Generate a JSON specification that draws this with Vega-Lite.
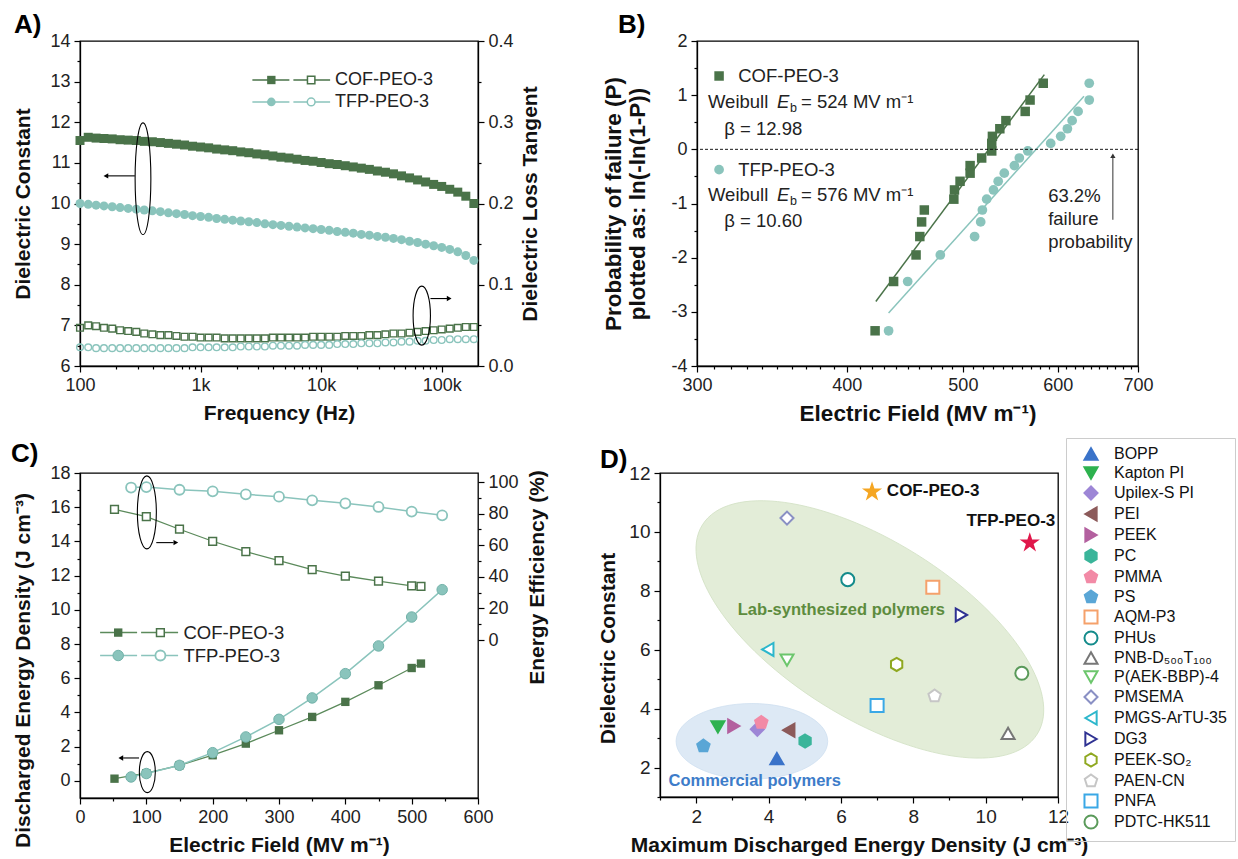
{
"$schema":"https://vega.github.io/schema/vega-lite/v6.json",
"background":"white",
"padding":{"left":10,"top":11,"right":2,"bottom":2},
"config":{
 "font":"Liberation Sans",
 "view":{"stroke":"#000","strokeWidth":1.3},
 "point":{"opacity":1},
 "locale":{"number":{"decimal":".","thousands":",","grouping":[3],"currency":["$",""],"minus":"-"}},
 "axis":{"grid":false,"labelFont":"Liberation Sans","labelFontSize":18,"labelColor":"#222","titleFont":"Liberation Sans","titleFontSize":21,"titleFontWeight":"bold","titleColor":"#111","domainColor":"#000","domainWidth":1.3,"tickColor":"#000","tickWidth":1.2,"tickSize":6,"labelPadding":4,"labelFlush":false,"labelOverlap":false},
 "title":{"font":"Liberation Sans","fontSize":26,"fontWeight":"bold","color":"#000","anchor":"start","frame":"group"},
 "text":{"font":"Liberation Sans","color":"#222"}
},
"datasets":{
"A":[
{"s":"COF-PEO-3","f":100,"eps":11.55,"tan":0.047},{"s":"COF-PEO-3","f":117,"eps":11.63,"tan":0.050},{"s":"COF-PEO-3","f":136,"eps":11.61,"tan":0.049},{"s":"COF-PEO-3","f":158,"eps":11.60,"tan":0.047},{"s":"COF-PEO-3","f":185,"eps":11.59,"tan":0.046},{"s":"COF-PEO-3","f":215,"eps":11.57,"tan":0.044},{"s":"COF-PEO-3","f":251,"eps":11.56,"tan":0.043},{"s":"COF-PEO-3","f":293,"eps":11.55,"tan":0.042},{"s":"COF-PEO-3","f":341,"eps":11.53,"tan":0.040},{"s":"COF-PEO-3","f":398,"eps":11.52,"tan":0.039},
{"s":"COF-PEO-3","f":464,"eps":11.50,"tan":0.038},{"s":"COF-PEO-3","f":541,"eps":11.48,"tan":0.038},{"s":"COF-PEO-3","f":631,"eps":11.46,"tan":0.037},{"s":"COF-PEO-3","f":736,"eps":11.44,"tan":0.036},{"s":"COF-PEO-3","f":858,"eps":11.41,"tan":0.036},{"s":"COF-PEO-3","f":1000,"eps":11.39,"tan":0.035},{"s":"COF-PEO-3","f":1166,"eps":11.37,"tan":0.035},{"s":"COF-PEO-3","f":1359,"eps":11.34,"tan":0.035},{"s":"COF-PEO-3","f":1585,"eps":11.32,"tan":0.034},{"s":"COF-PEO-3","f":1848,"eps":11.30,"tan":0.034},
{"s":"COF-PEO-3","f":2154,"eps":11.27,"tan":0.034},{"s":"COF-PEO-3","f":2512,"eps":11.25,"tan":0.034},{"s":"COF-PEO-3","f":2929,"eps":11.22,"tan":0.034},{"s":"COF-PEO-3","f":3415,"eps":11.20,"tan":0.034},{"s":"COF-PEO-3","f":3981,"eps":11.17,"tan":0.035},{"s":"COF-PEO-3","f":4642,"eps":11.14,"tan":0.035},{"s":"COF-PEO-3","f":5412,"eps":11.12,"tan":0.035},{"s":"COF-PEO-3","f":6310,"eps":11.09,"tan":0.035},{"s":"COF-PEO-3","f":7356,"eps":11.06,"tan":0.035},{"s":"COF-PEO-3","f":8577,"eps":11.04,"tan":0.036},
{"s":"COF-PEO-3","f":10000,"eps":11.01,"tan":0.036},{"s":"COF-PEO-3","f":11659,"eps":10.98,"tan":0.036},{"s":"COF-PEO-3","f":13594,"eps":10.96,"tan":0.036},{"s":"COF-PEO-3","f":15849,"eps":10.93,"tan":0.037},{"s":"COF-PEO-3","f":18478,"eps":10.90,"tan":0.037},{"s":"COF-PEO-3","f":21544,"eps":10.87,"tan":0.037},{"s":"COF-PEO-3","f":25119,"eps":10.84,"tan":0.038},{"s":"COF-PEO-3","f":29286,"eps":10.80,"tan":0.038},{"s":"COF-PEO-3","f":34146,"eps":10.77,"tan":0.039},{"s":"COF-PEO-3","f":39811,"eps":10.73,"tan":0.040},
{"s":"COF-PEO-3","f":46416,"eps":10.68,"tan":0.040},{"s":"COF-PEO-3","f":54117,"eps":10.63,"tan":0.041},{"s":"COF-PEO-3","f":63096,"eps":10.58,"tan":0.042},{"s":"COF-PEO-3","f":73564,"eps":10.53,"tan":0.043},{"s":"COF-PEO-3","f":85770,"eps":10.47,"tan":0.044},{"s":"COF-PEO-3","f":100000,"eps":10.42,"tan":0.045},{"s":"COF-PEO-3","f":116591,"eps":10.35,"tan":0.046},{"s":"COF-PEO-3","f":135936,"eps":10.28,"tan":0.047},{"s":"COF-PEO-3","f":158489,"eps":10.18,"tan":0.048},{"s":"COF-PEO-3","f":184785,"eps":10.00,"tan":0.048},
{"s":"TFP-PEO-3","f":100,"eps":10.00,"tan":0.023},{"s":"TFP-PEO-3","f":117,"eps":9.98,"tan":0.023},{"s":"TFP-PEO-3","f":136,"eps":9.96,"tan":0.022},{"s":"TFP-PEO-3","f":158,"eps":9.94,"tan":0.022},{"s":"TFP-PEO-3","f":185,"eps":9.92,"tan":0.022},{"s":"TFP-PEO-3","f":215,"eps":9.90,"tan":0.022},{"s":"TFP-PEO-3","f":251,"eps":9.88,"tan":0.022},{"s":"TFP-PEO-3","f":293,"eps":9.86,"tan":0.022},{"s":"TFP-PEO-3","f":341,"eps":9.84,"tan":0.022},{"s":"TFP-PEO-3","f":398,"eps":9.82,"tan":0.022},
{"s":"TFP-PEO-3","f":464,"eps":9.80,"tan":0.022},{"s":"TFP-PEO-3","f":541,"eps":9.77,"tan":0.022},{"s":"TFP-PEO-3","f":631,"eps":9.75,"tan":0.022},{"s":"TFP-PEO-3","f":736,"eps":9.73,"tan":0.022},{"s":"TFP-PEO-3","f":858,"eps":9.70,"tan":0.023},{"s":"TFP-PEO-3","f":1000,"eps":9.68,"tan":0.023},{"s":"TFP-PEO-3","f":1166,"eps":9.66,"tan":0.023},{"s":"TFP-PEO-3","f":1359,"eps":9.63,"tan":0.023},{"s":"TFP-PEO-3","f":1585,"eps":9.61,"tan":0.023},{"s":"TFP-PEO-3","f":1848,"eps":9.59,"tan":0.023},
{"s":"TFP-PEO-3","f":2154,"eps":9.57,"tan":0.024},{"s":"TFP-PEO-3","f":2512,"eps":9.55,"tan":0.024},{"s":"TFP-PEO-3","f":2929,"eps":9.53,"tan":0.024},{"s":"TFP-PEO-3","f":3415,"eps":9.50,"tan":0.024},{"s":"TFP-PEO-3","f":3981,"eps":9.48,"tan":0.025},{"s":"TFP-PEO-3","f":4642,"eps":9.46,"tan":0.025},{"s":"TFP-PEO-3","f":5412,"eps":9.44,"tan":0.025},{"s":"TFP-PEO-3","f":6310,"eps":9.42,"tan":0.025},{"s":"TFP-PEO-3","f":7356,"eps":9.40,"tan":0.026},{"s":"TFP-PEO-3","f":8577,"eps":9.38,"tan":0.026},
{"s":"TFP-PEO-3","f":10000,"eps":9.36,"tan":0.026},{"s":"TFP-PEO-3","f":11659,"eps":9.34,"tan":0.026},{"s":"TFP-PEO-3","f":13594,"eps":9.31,"tan":0.027},{"s":"TFP-PEO-3","f":15849,"eps":9.29,"tan":0.027},{"s":"TFP-PEO-3","f":18478,"eps":9.27,"tan":0.027},{"s":"TFP-PEO-3","f":21544,"eps":9.24,"tan":0.028},{"s":"TFP-PEO-3","f":25119,"eps":9.22,"tan":0.028},{"s":"TFP-PEO-3","f":29286,"eps":9.19,"tan":0.028},{"s":"TFP-PEO-3","f":34146,"eps":9.17,"tan":0.029},{"s":"TFP-PEO-3","f":39811,"eps":9.14,"tan":0.029},
{"s":"TFP-PEO-3","f":46416,"eps":9.11,"tan":0.030},{"s":"TFP-PEO-3","f":54117,"eps":9.07,"tan":0.030},{"s":"TFP-PEO-3","f":63096,"eps":9.04,"tan":0.031},{"s":"TFP-PEO-3","f":73564,"eps":9.00,"tan":0.031},{"s":"TFP-PEO-3","f":85770,"eps":8.96,"tan":0.032},{"s":"TFP-PEO-3","f":100000,"eps":8.92,"tan":0.032},{"s":"TFP-PEO-3","f":116591,"eps":8.87,"tan":0.033},{"s":"TFP-PEO-3","f":135936,"eps":8.81,"tan":0.033},{"s":"TFP-PEO-3","f":158489,"eps":8.72,"tan":0.033},{"s":"TFP-PEO-3","f":184785,"eps":8.60,"tan":0.033}
],
"B":[
{"s":"COF-PEO-3","E":422.4,"v":-3.35},{"s":"COF-PEO-3","E":437.7,"v":-2.44},{"s":"COF-PEO-3","E":457.0,"v":-1.95},{"s":"COF-PEO-3","E":460.3,"v":-1.61},{"s":"COF-PEO-3","E":461.9,"v":-1.34},{"s":"COF-PEO-3","E":464.3,"v":-1.12},{"s":"COF-PEO-3","E":491.4,"v":-0.92},{"s":"COF-PEO-3","E":492.0,"v":-0.75},{"s":"COF-PEO-3","E":497.3,"v":-0.59},{"s":"COF-PEO-3","E":507.0,"v":-0.44},
{"s":"COF-PEO-3","E":507.0,"v":-0.30},{"s":"COF-PEO-3","E":518.4,"v":-0.16},{"s":"COF-PEO-3","E":528.5,"v":-0.03},{"s":"COF-PEO-3","E":528.5,"v":0.11},{"s":"COF-PEO-3","E":529.2,"v":0.24},{"s":"COF-PEO-3","E":536.8,"v":0.38},{"s":"COF-PEO-3","E":543.1,"v":0.53},{"s":"COF-PEO-3","E":563.6,"v":0.70},{"s":"COF-PEO-3","E":568.9,"v":0.91},{"s":"COF-PEO-3","E":583.5,"v":1.22},
{"s":"TFP-PEO-3","E":433.5,"v":-3.35},{"s":"TFP-PEO-3","E":449.7,"v":-2.44},{"s":"TFP-PEO-3","E":478.8,"v":-1.95},{"s":"TFP-PEO-3","E":511.4,"v":-1.61},{"s":"TFP-PEO-3","E":517.4,"v":-1.34},{"s":"TFP-PEO-3","E":519.1,"v":-1.12},{"s":"TFP-PEO-3","E":523.4,"v":-0.92},{"s":"TFP-PEO-3","E":530.3,"v":-0.75},{"s":"TFP-PEO-3","E":535.1,"v":-0.59},{"s":"TFP-PEO-3","E":541.4,"v":-0.44},
{"s":"TFP-PEO-3","E":552.0,"v":-0.30},{"s":"TFP-PEO-3","E":557.3,"v":-0.16},{"s":"TFP-PEO-3","E":566.4,"v":-0.03},{"s":"TFP-PEO-3","E":591.9,"v":0.11},{"s":"TFP-PEO-3","E":603.4,"v":0.24},{"s":"TFP-PEO-3","E":611.2,"v":0.38},{"s":"TFP-PEO-3","E":616.8,"v":0.53},{"s":"TFP-PEO-3","E":623.9,"v":0.70},{"s":"TFP-PEO-3","E":637.4,"v":0.91},{"s":"TFP-PEO-3","E":637.4,"v":1.22}
],
"Bfit":[
{"s":"COF-PEO-3","E":423,"v":-2.81},{"s":"COF-PEO-3","E":584.7,"v":1.38},
{"s":"TFP-PEO-3","E":433.5,"v":-3.02},{"s":"TFP-PEO-3","E":631,"v":0.98}
],
"C":[
{"s":"COF-PEO-3","E":52,"W":0.13,"eff":82.7},{"s":"COF-PEO-3","E":100,"W":0.45,"eff":78.1},{"s":"COF-PEO-3","E":150,"W":0.91,"eff":70.1},{"s":"COF-PEO-3","E":200,"W":1.50,"eff":62.5},{"s":"COF-PEO-3","E":250,"W":2.18,"eff":55.9},{"s":"COF-PEO-3","E":300,"W":2.96,"eff":50.2},{"s":"COF-PEO-3","E":350,"W":3.74,"eff":44.5},{"s":"COF-PEO-3","E":400,"W":4.62,"eff":40.5},{"s":"COF-PEO-3","E":450,"W":5.59,"eff":37.2},{"s":"COF-PEO-3","E":500,"W":6.60,"eff":34.2},{"s":"COF-PEO-3","E":514,"W":6.86,"eff":33.9},
{"s":"TFP-PEO-3","E":77,"W":0.23,"eff":96.5},{"s":"TFP-PEO-3","E":100,"W":0.43,"eff":96.8},{"s":"TFP-PEO-3","E":150,"W":0.91,"eff":95.1},{"s":"TFP-PEO-3","E":200,"W":1.65,"eff":94.1},{"s":"TFP-PEO-3","E":250,"W":2.57,"eff":92.2},{"s":"TFP-PEO-3","E":300,"W":3.60,"eff":90.7},{"s":"TFP-PEO-3","E":350,"W":4.85,"eff":88.4},{"s":"TFP-PEO-3","E":400,"W":6.27,"eff":86.5},{"s":"TFP-PEO-3","E":450,"W":7.89,"eff":84.2},{"s":"TFP-PEO-3","E":500,"W":9.58,"eff":81.3},{"s":"TFP-PEO-3","E":546,"W":11.18,"eff":78.9}
],
"D":[
{"name":"BOPP","x":4.23,"y":2.30},{"name":"Kapton PI","x":2.60,"y":3.38},{"name":"Upilex-S PI","x":3.69,"y":3.30},{"name":"PEI","x":4.56,"y":3.27},{"name":"PEEK","x":3.04,"y":3.41},{"name":"PC","x":5.01,"y":2.90},{"name":"PMMA","x":3.80,"y":3.53},{"name":"PS","x":2.20,"y":2.73},{"name":"AQM-P3","x":8.54,"y":8.12},{"name":"PHUs","x":6.19,"y":8.38},
{"name":"PNB-D₅₀₀T₁₀₀","x":10.62,"y":3.16},{"name":"P(AEK-BBP)-4","x":4.51,"y":5.65},{"name":"PMSEMA","x":4.51,"y":10.47},{"name":"PMGS-ArTU-35","x":3.98,"y":6.01},{"name":"DG3","x":9.33,"y":7.18},{"name":"PEEK-SO₂","x":7.54,"y":5.50},{"name":"PAEN-CN","x":8.59,"y":4.43},{"name":"PNFA","x":7.00,"y":4.11},{"name":"PDTC-HK511","x":11.00,"y":5.20}
],
"Dstar":[
{"name":"COF-PEO-3","x":6.86,"y":11.36},{"name":"TFP-PEO-3","x":11.22,"y":9.63}
]
},
"vconcat":[
{"hconcat":[
{
"width":398,"height":325,
"title":{"text":"A)","dx":-66,"offset":-6},
"resolve":{"scale":{"y":"independent"},"axis":{"x":"independent","y":"independent"}},
"layer":[
{"data":{"name":"A"},"transform":[{"filter":"datum.s == 'COF-PEO-3'"}],
 "mark":{"type":"point","shape":"square","filled":true,"color":"#4a7349","size":81},
 "encoding":{
  "x":{"field":"f","type":"quantitative","scale":{"type":"log","domain":[100,200000],"nice":false},"axis":{"orient":"bottom","values":[100,1000,10000,100000],"labelExpr":"datum.value >= 1000 ? format(datum.value / 1000, 'd') + 'k' : format(datum.value, 'd')","title":"Frequency (Hz)","titlePadding":8}},
  "y":{"field":"eps","type":"quantitative","scale":{"domain":[6,14],"nice":false,"zero":false},"axis":{"orient":"left","values":[6,7,8,9,10,11,12,13,14],"title":"Dielectric Constant","titlePadding":16}}}},
{"data":{"name":"A"},"transform":[{"filter":"datum.s == 'TFP-PEO-3'"}],
 "mark":{"type":"point","shape":"circle","filled":true,"color":"#8ac4bc","size":81},
 "encoding":{
  "x":{"field":"f","type":"quantitative","axis":{"orient":"bottom","values":[200,300,400,500,600,700,800,900,2000,3000,4000,5000,6000,7000,8000,9000,20000,30000,40000,50000,60000,70000,80000,90000],"labels":false,"tickSize":3,"domain":false,"title":null}},
  "y":{"field":"eps","type":"quantitative","scale":{"domain":[6,14],"nice":false,"zero":false},"axis":{"orient":"left","values":[6.5,7.5,8.5,9.5,10.5,11.5,12.5,13.5],"labels":false,"tickSize":3,"domain":false,"title":null}}}},
{"data":{"name":"A"},"transform":[{"filter":"datum.s == 'COF-PEO-3'"}],
 "mark":{"type":"point","shape":"square","filled":false,"color":"#4a7349","strokeWidth":1.4,"size":45},
 "encoding":{
  "x":{"field":"f","type":"quantitative","axis":null},
  "y":{"field":"tan","type":"quantitative","scale":{"domain":[0,0.4],"nice":false,"zero":false},"axis":{"orient":"right","values":[0,0.1,0.2,0.3,0.4],"format":".1f","title":"Dielectric Loss Tangent","titleAngle":270,"titleBaseline":"top","titlePadding":6}}}},
{"data":{"name":"A"},"transform":[{"filter":"datum.s == 'TFP-PEO-3'"}],
 "mark":{"type":"point","shape":"circle","filled":false,"color":"#8ac4bc","strokeWidth":1.4,"size":45},
 "encoding":{
  "x":{"field":"f","type":"quantitative","axis":null},
  "y":{"field":"tan","type":"quantitative","scale":{"domain":[0,0.4],"nice":false,"zero":false},"axis":{"orient":"right","values":[0.05,0.15,0.25,0.35],"labels":false,"tickSize":3,"domain":false,"title":null}}}},
{"data":{"values":[{}]},"mark":{"type":"rule","color":"#4a7349","strokeWidth":1.5,"strokeDash":[37,4]},
 "encoding":{"x":{"datum":2690,"type":"quantitative","axis":null},"x2":{"datum":11870},"y":{"datum":13.04,"type":"quantitative","scale":{"domain":[6,14],"nice":false,"zero":false},"axis":null}}},
{"data":{"values":[{}]},"mark":{"type":"point","shape":"square","filled":true,"color":"#4a7349","size":70},
 "encoding":{"x":{"datum":3863,"type":"quantitative","axis":null},"y":{"datum":13.04,"type":"quantitative","scale":{"domain":[6,14],"nice":false,"zero":false},"axis":null}}},
{"data":{"values":[{}]},"mark":{"type":"point","shape":"square","filled":true,"fill":"white","stroke":"#4a7349","strokeWidth":1.5,"size":55},
 "encoding":{"x":{"datum":8266,"type":"quantitative","axis":null},"y":{"datum":13.04,"type":"quantitative","scale":{"domain":[6,14],"nice":false,"zero":false},"axis":null}}},
{"data":{"values":[{}]},"mark":{"type":"text","text":"COF-PEO-3","align":"left","baseline":"middle","fontSize":18},
 "encoding":{"x":{"datum":13050,"type":"quantitative","axis":null},"y":{"datum":13.04,"type":"quantitative","scale":{"domain":[6,14],"nice":false,"zero":false},"axis":null}}},
{"data":{"values":[{}]},"mark":{"type":"rule","color":"#8ac4bc","strokeWidth":1.5,"strokeDash":[37,4]},
 "encoding":{"x":{"datum":2690,"type":"quantitative","axis":null},"x2":{"datum":11870},"y":{"datum":12.5,"type":"quantitative","scale":{"domain":[6,14],"nice":false,"zero":false},"axis":null}}},
{"data":{"values":[{}]},"mark":{"type":"point","shape":"circle","filled":true,"color":"#8ac4bc","size":75},
 "encoding":{"x":{"datum":3863,"type":"quantitative","axis":null},"y":{"datum":12.5,"type":"quantitative","scale":{"domain":[6,14],"nice":false,"zero":false},"axis":null}}},
{"data":{"values":[{}]},"mark":{"type":"point","shape":"circle","filled":true,"fill":"white","stroke":"#8ac4bc","strokeWidth":1.5,"size":60},
 "encoding":{"x":{"datum":8266,"type":"quantitative","axis":null},"y":{"datum":12.5,"type":"quantitative","scale":{"domain":[6,14],"nice":false,"zero":false},"axis":null}}},
{"data":{"values":[{}]},"mark":{"type":"text","text":"TFP-PEO-3","align":"left","baseline":"middle","fontSize":18},
 "encoding":{"x":{"datum":13050,"type":"quantitative","axis":null},"y":{"datum":12.5,"type":"quantitative","scale":{"domain":[6,14],"nice":false,"zero":false},"axis":null}}},
{"data":{"values":[{}]},"mark":{"type":"point","shape":"M0.141,0C0.141,0.5523,0.078,1,0,1C-0.078,1,-0.141,0.5523,-0.141,0C-0.141,-0.5523,-0.078,-1,0,-1C0.078,-1,0.141,-0.5523,0.141,0Z","filled":false,"color":"#000","strokeWidth":1.1,"size":12477},
 "encoding":{"x":{"datum":333,"type":"quantitative","axis":null},"y":{"datum":10.61,"type":"quantitative","scale":{"domain":[6,14],"nice":false,"zero":false},"axis":null}}},
{"data":{"values":[{}]},"mark":{"type":"rule","color":"#000","strokeWidth":1.1},
 "encoding":{"x":{"datum":285,"type":"quantitative","axis":null},"x2":{"datum":169},"y":{"datum":10.68,"type":"quantitative","scale":{"domain":[6,14],"nice":false,"zero":false},"axis":null}}},
{"data":{"values":[{}]},"mark":{"type":"point","shape":"triangle-left","filled":true,"color":"#000","size":30},
 "encoding":{"x":{"datum":164,"type":"quantitative","axis":null},"y":{"datum":10.68,"type":"quantitative","scale":{"domain":[6,14],"nice":false,"zero":false},"axis":null}}},
{"data":{"values":[{}]},"mark":{"type":"point","shape":"M0.294,0C0.294,0.5523,0.1624,1,0,1C-0.1624,1,-0.294,0.5523,-0.294,0C-0.294,-0.5523,-0.1624,-1,0,-1C0.1624,-1,0.294,-0.5523,0.294,0Z","filled":false,"color":"#000","strokeWidth":1.1,"size":3481},
 "encoding":{"x":{"datum":68340,"type":"quantitative","axis":null},"y":{"datum":7.24,"type":"quantitative","scale":{"domain":[6,14],"nice":false,"zero":false},"axis":null}}},
{"data":{"values":[{}]},"mark":{"type":"rule","color":"#000","strokeWidth":1.1},
 "encoding":{"x":{"datum":80650,"type":"quantitative","axis":null},"x2":{"datum":112100},"y":{"datum":7.66,"type":"quantitative","scale":{"domain":[6,14],"nice":false,"zero":false},"axis":null}}},
{"data":{"values":[{}]},"mark":{"type":"point","shape":"triangle-right","filled":true,"color":"#000","size":30},
 "encoding":{"x":{"datum":115300,"type":"quantitative","axis":null},"y":{"datum":7.66,"type":"quantitative","scale":{"domain":[6,14],"nice":false,"zero":false},"axis":null}}}
]
},
{
"width":441,"height":325,
"title":{"text":"B)","dx":-79,"offset":-6},
"resolve":{"axis":{"x":"independent","y":"independent"}},
"layer":[
{"data":{"name":"Bfit"},"mark":{"type":"line","strokeWidth":1.5},
 "encoding":{
  "x":{"field":"E","type":"quantitative","scale":{"type":"log","domain":[300,700],"nice":false},"axis":{"orient":"bottom","values":[300,400,500,600,700],"format":"d","title":"Electric Field (MV m⁻¹)","titleFontSize":22.5,"titlePadding":8}},
  "y":{"field":"v","type":"quantitative","scale":{"domain":[-4,2],"nice":false,"zero":false},"axis":{"orient":"left","values":[-4,-3,-2,-1,0,1,2],"format":"d","title":["Probability of failure (P)","plotted as: ln(-ln(1-P))"],"titleFontSize":22.5,"titleLineHeight":24,"titlePadding":21}},
  "color":{"field":"s","type":"nominal","scale":{"domain":["COF-PEO-3","TFP-PEO-3"],"range":["#4a7349","#8ac4bc"]},"legend":null}}},
{"data":{"name":"B"},"transform":[{"filter":"datum.s == 'COF-PEO-3'"}],
 "mark":{"type":"point","shape":"square","filled":true,"color":"#4a7349","size":90},
 "encoding":{
  "x":{"field":"E","type":"quantitative","axis":{"orient":"bottom","values":[310,320,330,340,350,360,370,380,390,410,420,430,440,450,460,470,480,490,510,520,530,540,550,560,570,580,590,610,620,630,640,650,660,670,680,690],"labels":false,"tickSize":3,"domain":false,"title":null}},
  "y":{"field":"v","type":"quantitative","axis":{"orient":"left","values":[-3.5,-2.5,-1.5,-0.5,0.5,1.5],"labels":false,"tickSize":3,"domain":false,"title":null}}}},
{"data":{"name":"B"},"transform":[{"filter":"datum.s == 'TFP-PEO-3'"}],
 "mark":{"type":"point","shape":"circle","filled":true,"color":"#8ac4bc","size":95},
 "encoding":{"x":{"field":"E","type":"quantitative","axis":null},"y":{"field":"v","type":"quantitative","axis":null}}},
{"data":{"values":[{}]},"mark":{"type":"rule","color":"#000","strokeWidth":0.9,"strokeDash":[3,2]},
 "encoding":{"y":{"datum":0,"type":"quantitative","axis":null}}},
{"data":{"values":[{}]},"mark":{"type":"rule","color":"#333","strokeWidth":1},
 "encoding":{"x":{"datum":667,"type":"quantitative","axis":null},"y":{"datum":-1.30,"type":"quantitative","axis":null},"y2":{"datum":-0.16}}},
{"data":{"values":[{}]},"mark":{"type":"point","shape":"triangle-up","filled":true,"color":"#333","size":28},
 "encoding":{"x":{"datum":667,"type":"quantitative","axis":null},"y":{"datum":-0.12,"type":"quantitative","axis":null}}},
{"data":{"values":[{}]},"mark":{"type":"text","text":["63.2%","failure","probability"],"align":"left","baseline":"alphabetic","lineHeight":23,"fontSize":18.5},
 "encoding":{"x":{"datum":589,"type":"quantitative","axis":null},"y":{"datum":-0.97,"type":"quantitative","axis":null}}},
{"data":{"values":[{}]},"mark":{"type":"point","shape":"square","filled":true,"color":"#4a7349","size":90},
 "encoding":{"x":{"datum":313,"type":"quantitative","axis":null},"y":{"datum":1.354,"type":"quantitative","axis":null}}},
{"data":{"values":[{}]},"mark":{"type":"text","text":"COF-PEO-3","align":"left","baseline":"middle","fontSize":18.5},
 "encoding":{"x":{"datum":324.7,"type":"quantitative","axis":null},"y":{"datum":1.354,"type":"quantitative","axis":null}}},
{"data":{"values":[{}]},"mark":{"type":"text","text":"Weibull","align":"left","baseline":"middle","fontSize":18.5},
 "encoding":{"x":{"datum":306.4,"type":"quantitative","axis":null},"y":{"datum":0.874,"type":"quantitative","axis":null}}},
{"data":{"values":[{}]},"mark":{"type":"text","text":"E","align":"left","baseline":"middle","fontSize":18.5,"fontStyle":"italic","dx":69},
 "encoding":{"x":{"datum":306.4,"type":"quantitative","axis":null},"y":{"datum":0.874,"type":"quantitative","axis":null}}},
{"data":{"values":[{}]},"mark":{"type":"text","text":"b","align":"left","baseline":"middle","fontSize":12.5,"dx":82,"dy":6},
 "encoding":{"x":{"datum":306.4,"type":"quantitative","axis":null},"y":{"datum":0.874,"type":"quantitative","axis":null}}},
{"data":{"values":[{}]},"mark":{"type":"text","text":"= 524 MV m⁻¹","align":"left","baseline":"middle","fontSize":18.5,"dx":93},
 "encoding":{"x":{"datum":306.4,"type":"quantitative","axis":null},"y":{"datum":0.874,"type":"quantitative","axis":null}}},
{"data":{"values":[{}]},"mark":{"type":"text","text":"β = 12.98","align":"left","baseline":"middle","fontSize":18.5},
 "encoding":{"x":{"datum":316.1,"type":"quantitative","axis":null},"y":{"datum":0.381,"type":"quantitative","axis":null}}},
{"data":{"values":[{}]},"mark":{"type":"point","shape":"circle","filled":true,"color":"#8ac4bc","size":95},
 "encoding":{"x":{"datum":313,"type":"quantitative","axis":null},"y":{"datum":-0.375,"type":"quantitative","axis":null}}},
{"data":{"values":[{}]},"mark":{"type":"text","text":"TFP-PEO-3","align":"left","baseline":"middle","fontSize":18.5},
 "encoding":{"x":{"datum":324.7,"type":"quantitative","axis":null},"y":{"datum":-0.375,"type":"quantitative","axis":null}}},
{"data":{"values":[{}]},"mark":{"type":"text","text":"Weibull","align":"left","baseline":"middle","fontSize":18.5},
 "encoding":{"x":{"datum":306.4,"type":"quantitative","axis":null},"y":{"datum":-0.837,"type":"quantitative","axis":null}}},
{"data":{"values":[{}]},"mark":{"type":"text","text":"E","align":"left","baseline":"middle","fontSize":18.5,"fontStyle":"italic","dx":69},
 "encoding":{"x":{"datum":306.4,"type":"quantitative","axis":null},"y":{"datum":-0.837,"type":"quantitative","axis":null}}},
{"data":{"values":[{}]},"mark":{"type":"text","text":"b","align":"left","baseline":"middle","fontSize":12.5,"dx":82,"dy":6},
 "encoding":{"x":{"datum":306.4,"type":"quantitative","axis":null},"y":{"datum":-0.837,"type":"quantitative","axis":null}}},
{"data":{"values":[{}]},"mark":{"type":"text","text":"= 576 MV m⁻¹","align":"left","baseline":"middle","fontSize":18.5,"dx":93},
 "encoding":{"x":{"datum":306.4,"type":"quantitative","axis":null},"y":{"datum":-0.837,"type":"quantitative","axis":null}}},
{"data":{"values":[{}]},"mark":{"type":"text","text":"β = 10.60","align":"left","baseline":"middle","fontSize":18.5},
 "encoding":{"x":{"datum":316.1,"type":"quantitative","axis":null},"y":{"datum":-1.317,"type":"quantitative","axis":null}}}
]
}
],"spacing":219,"bounds":"flush"},
{"hconcat":[
{
"width":398,"height":325,
"title":{"text":"C)","dx":-69,"offset":-3},
"resolve":{"scale":{"y":"independent"},"axis":{"x":"independent","y":"independent"}},
"layer":[
{"data":{"name":"C"},"transform":[{"filter":"datum.s == 'COF-PEO-3'"}],
 "mark":{"type":"line","color":"#5b8a5b","strokeWidth":1.3,"point":{"shape":"square","filled":true,"color":"#4a7349","size":70,"opacity":1}},
 "encoding":{
  "x":{"field":"E","type":"quantitative","scale":{"domain":[0,600],"nice":false,"zero":false},"axis":{"orient":"bottom","values":[0,100,200,300,400,500,600],"title":"Electric Field (MV m⁻¹)","titlePadding":8}},
  "y":{"field":"W","type":"quantitative","scale":{"domain":[-1,18],"nice":false,"zero":false},"axis":{"orient":"left","values":[0,2,4,6,8,10,12,14,16,18],"title":"Discharged Energy Density (J cm⁻³)","titlePadding":16,"titleY":197}}}},
{"data":{"name":"C"},"transform":[{"filter":"datum.s == 'TFP-PEO-3'"}],
 "mark":{"type":"line","color":"#8ac4bc","strokeWidth":1.5,"point":{"shape":"circle","filled":true,"fill":"#8ac4bc","stroke":"#72b2a9","strokeWidth":1,"size":110,"opacity":1}},
 "encoding":{
  "x":{"field":"E","type":"quantitative","axis":{"orient":"bottom","values":[50,150,250,350,450,550],"labels":false,"tickSize":3,"domain":false,"title":null}},
  "y":{"field":"W","type":"quantitative","scale":{"domain":[-1,18],"nice":false,"zero":false},"axis":{"orient":"left","values":[1,3,5,7,9,11,13,15,17],"labels":false,"tickSize":3,"domain":false,"title":null}}}},
{"data":{"name":"C"},"transform":[{"filter":"datum.s == 'COF-PEO-3'"}],
 "mark":{"type":"line","color":"#5b8a5b","strokeWidth":1.3,"point":{"shape":"square","filled":true,"fill":"white","stroke":"#4a7349","strokeWidth":1.5,"size":60,"opacity":1}},
 "encoding":{
  "x":{"field":"E","type":"quantitative","axis":null},
  "y":{"field":"eff","type":"quantitative","scale":{"domain":[-100,105.7],"nice":false,"zero":false},"axis":{"orient":"right","values":[0,20,40,60,80,100],"domain":false,"title":"Energy Efficiency (%)","titleAngle":270,"titleBaseline":"top","titleY":104,"titlePadding":8}}}},
{"data":{"name":"C"},"transform":[{"filter":"datum.s == 'TFP-PEO-3'"}],
 "mark":{"type":"line","color":"#8ac4bc","strokeWidth":1.5,"point":{"shape":"circle","filled":true,"fill":"white","stroke":"#8ac4bc","strokeWidth":1.8,"size":100,"opacity":1}},
 "encoding":{
  "x":{"field":"E","type":"quantitative","axis":null},
  "y":{"field":"eff","type":"quantitative","scale":{"domain":[-100,105.7],"nice":false,"zero":false},"axis":{"orient":"right","values":[10,30,50,70,90],"labels":false,"tickSize":3,"domain":false,"title":null}}}},
{"data":{"values":[{}]},"mark":{"type":"rule","color":"#5b8a5b","strokeWidth":1.5,"strokeDash":[37,4]},
 "encoding":{"x":{"datum":30.3,"type":"quantitative","axis":null},"x2":{"datum":148.5},"y":{"datum":8.67,"type":"quantitative","scale":{"domain":[-1,18],"nice":false,"zero":false},"axis":null}}},
{"data":{"values":[{}]},"mark":{"type":"point","shape":"square","filled":true,"color":"#4a7349","size":70},
 "encoding":{"x":{"datum":57.6,"type":"quantitative","axis":null},"y":{"datum":8.67,"type":"quantitative","scale":{"domain":[-1,18],"nice":false,"zero":false},"axis":null}}},
{"data":{"values":[{}]},"mark":{"type":"point","shape":"square","filled":true,"fill":"white","stroke":"#4a7349","strokeWidth":1.5,"size":60},
 "encoding":{"x":{"datum":121.2,"type":"quantitative","axis":null},"y":{"datum":8.67,"type":"quantitative","scale":{"domain":[-1,18],"nice":false,"zero":false},"axis":null}}},
{"data":{"values":[{}]},"mark":{"type":"text","text":"COF-PEO-3","align":"left","baseline":"middle","fontSize":18.5},
 "encoding":{"x":{"datum":156,"type":"quantitative","axis":null},"y":{"datum":8.67,"type":"quantitative","scale":{"domain":[-1,18],"nice":false,"zero":false},"axis":null}}},
{"data":{"values":[{}]},"mark":{"type":"rule","color":"#8ac4bc","strokeWidth":1.5,"strokeDash":[37,4]},
 "encoding":{"x":{"datum":30.3,"type":"quantitative","axis":null},"x2":{"datum":148.5},"y":{"datum":7.33,"type":"quantitative","scale":{"domain":[-1,18],"nice":false,"zero":false},"axis":null}}},
{"data":{"values":[{}]},"mark":{"type":"point","shape":"circle","filled":true,"fill":"#8ac4bc","stroke":"#72b2a9","strokeWidth":1,"size":110},
 "encoding":{"x":{"datum":57.6,"type":"quantitative","axis":null},"y":{"datum":7.33,"type":"quantitative","scale":{"domain":[-1,18],"nice":false,"zero":false},"axis":null}}},
{"data":{"values":[{}]},"mark":{"type":"point","shape":"circle","filled":true,"fill":"white","stroke":"#8ac4bc","strokeWidth":1.8,"size":100},
 "encoding":{"x":{"datum":121.2,"type":"quantitative","axis":null},"y":{"datum":7.33,"type":"quantitative","scale":{"domain":[-1,18],"nice":false,"zero":false},"axis":null}}},
{"data":{"values":[{}]},"mark":{"type":"text","text":"TFP-PEO-3","align":"left","baseline":"middle","fontSize":18.5},
 "encoding":{"x":{"datum":156,"type":"quantitative","axis":null},"y":{"datum":7.33,"type":"quantitative","scale":{"domain":[-1,18],"nice":false,"zero":false},"axis":null}}},
{"data":{"values":[{}]},"mark":{"type":"point","shape":"M0.26,0C0.26,0.5523,0.1436,1,0,1C-0.1436,1,-0.26,0.5523,-0.26,0C-0.26,-0.5523,-0.1436,-1,0,-1C0.1436,-1,0.26,-0.5523,0.26,0Z","filled":false,"color":"#000","strokeWidth":1.1,"size":5329},
 "encoding":{"x":{"datum":100.8,"type":"quantitative","axis":null},"y":{"datum":15.7,"type":"quantitative","scale":{"domain":[-1,18],"nice":false,"zero":false},"axis":null}}},
{"data":{"values":[{}]},"mark":{"type":"rule","color":"#000","strokeWidth":1.1},
 "encoding":{"x":{"datum":115,"type":"quantitative","axis":null},"x2":{"datum":141},"y":{"datum":13.93,"type":"quantitative","scale":{"domain":[-1,18],"nice":false,"zero":false},"axis":null}}},
{"data":{"values":[{}]},"mark":{"type":"point","shape":"triangle-right","filled":true,"color":"#000","size":30},
 "encoding":{"x":{"datum":144.5,"type":"quantitative","axis":null},"y":{"datum":13.93,"type":"quantitative","scale":{"domain":[-1,18],"nice":false,"zero":false},"axis":null}}},
{"data":{"values":[{}]},"mark":{"type":"point","shape":"M0.39,0C0.39,0.5523,0.2154,1,0,1C-0.2154,1,-0.39,0.5523,-0.39,0C-0.39,-0.5523,-0.2154,-1,0,-1C0.2154,-1,0.39,-0.5523,0.39,0Z","filled":false,"color":"#000","strokeWidth":1.1,"size":1681},
 "encoding":{"x":{"datum":101.5,"type":"quantitative","axis":null},"y":{"datum":0.51,"type":"quantitative","scale":{"domain":[-1,18],"nice":false,"zero":false},"axis":null}}},
{"data":{"values":[{}]},"mark":{"type":"rule","color":"#000","strokeWidth":1.1},
 "encoding":{"x":{"datum":89,"type":"quantitative","axis":null},"x2":{"datum":65},"y":{"datum":1.34,"type":"quantitative","scale":{"domain":[-1,18],"nice":false,"zero":false},"axis":null}}},
{"data":{"values":[{}]},"mark":{"type":"point","shape":"triangle-left","filled":true,"color":"#000","size":30},
 "encoding":{"x":{"datum":61.5,"type":"quantitative","axis":null},"y":{"datum":1.34,"type":"quantitative","scale":{"domain":[-1,18],"nice":false,"zero":false},"axis":null}}}
]
},
{
"width":398,"height":324,
"title":{"text":"D)","dx":-60,"offset":-9},
"resolve":{"axis":{"x":"independent","y":"independent"}},
"layer":[
{"data":{"values":[{}]},"mark":{"type":"point","shape":"M1.974,0C1.974,0.488,1.09,0.884,0,0.884C-1.09,0.884,-1.974,0.488,-1.974,0C-1.974,-0.488,-1.09,-0.884,0,-0.884C1.09,-0.884,1.974,-0.488,1.974,0Z","size":40000,"angle":32,"filled":true,"fill":"#e3edd8","stroke":"#d3e2c6","strokeWidth":0.8},
 "encoding":{
  "x":{"datum":6.80,"type":"quantitative","scale":{"domain":[1,12],"nice":false,"zero":false},"axis":{"orient":"bottom","values":[2,4,6,8,10,12],"labelFontSize":19,"title":"Maximum Discharged Energy Density (J cm⁻³)","titlePadding":8}},
  "y":{"datum":6.69,"type":"quantitative","scale":{"domain":[1,12],"nice":false,"zero":false},"axis":{"orient":"left","values":[2,4,6,8,10,12],"labelFontSize":19,"title":"Dielectric Constant","titlePadding":10,"titleY":175}}}},
{"data":{"values":[{}]},"mark":{"type":"point","shape":"M0.758,0C0.758,0.2088,0.4187,0.378,0,0.378C-0.4187,0.378,-0.758,0.2088,-0.758,0C-0.758,-0.2088,-0.4187,-0.378,0,-0.378C0.4187,-0.378,0.758,-0.2088,0.758,0Z","size":40000,"filled":true,"fill":"#dde9f5","stroke":"#cfdff0","strokeWidth":0.8},
 "encoding":{
  "x":{"datum":3.54,"type":"quantitative","axis":{"orient":"bottom","values":[1,3,5,7,9,11],"labels":false,"tickSize":3,"domain":false,"title":null}},
  "y":{"datum":2.89,"type":"quantitative","axis":{"orient":"left","values":[1,3,5,7,9,11],"labels":false,"tickSize":3,"domain":false,"title":null}}}},
{"data":{"name":"D"},"mark":{"type":"point","size":170,"strokeWidth":2,"opacity":1},
 "encoding":{
  "x":{"field":"x","type":"quantitative","axis":null},
  "y":{"field":"y","type":"quantitative","axis":null},
  "shape":{"field":"name","type":"nominal","scale":{"domain":["BOPP","Kapton PI","Upilex-S PI","PEI","PEEK","PC","PMMA","PS","AQM-P3","PHUs","PNB-D₅₀₀T₁₀₀","P(AEK-BBP)-4","PMSEMA","PMGS-ArTU-35","DG3","PEEK-SO₂","PAEN-CN","PNFA","PDTC-HK511"],"range":["triangle-up","triangle-down","diamond","triangle-left","triangle-right","M0,-1L0.866,-0.5L0.866,0.5L0,1L-0.866,0.5L-0.866,-0.5Z","M0,-1L0.951,-0.309L0.588,0.809L-0.588,0.809L-0.951,-0.309Z","M0,-1L0.951,-0.309L0.588,0.809L-0.588,0.809L-0.951,-0.309Z","square","circle","triangle-up","triangle-down","diamond","triangle-left","triangle-right","M0,-1L0.866,-0.5L0.866,0.5L0,1L-0.866,0.5L-0.866,-0.5Z","M0,-1L0.951,-0.309L0.588,0.809L-0.588,0.809L-0.951,-0.309Z","square","circle"]},
   "legend":{"orient":"none","legendX":986,"legendY":397,"title":null,"strokeColor":"#cccccc","padding":8,"symbolOffset":9,"labelFontSize":16,"labelFont":"Liberation Sans","labelColor":"#111","symbolSize":170,"symbolStrokeWidth":2,"rowPadding":-1,"labelOffset":15}},
  "stroke":{"field":"name","type":"nominal","scale":{"domain":["BOPP","Kapton PI","Upilex-S PI","PEI","PEEK","PC","PMMA","PS","AQM-P3","PHUs","PNB-D₅₀₀T₁₀₀","P(AEK-BBP)-4","PMSEMA","PMGS-ArTU-35","DG3","PEEK-SO₂","PAEN-CN","PNFA","PDTC-HK511"],"range":["#3a73c9","#2eb24f","#9d86d6","#8c5a5a","#b3609f","#3ab59a","#f28aa6","#5aa6d6","#f5a16b","#148b8b","#777777","#6cc66c","#8a90c4","#2cb7cc","#2e3192","#8fa820","#c6c6c6","#3aa8e6","#5a9a5a"]},
   "legend":{"orient":"none","legendX":986,"legendY":397,"title":null,"strokeColor":"#cccccc","padding":8,"symbolOffset":9,"labelFontSize":16,"labelFont":"Liberation Sans","labelColor":"#111","symbolSize":170,"symbolStrokeWidth":2,"rowPadding":-1,"labelOffset":15}},
  "fill":{"field":"name","type":"nominal","scale":{"domain":["BOPP","Kapton PI","Upilex-S PI","PEI","PEEK","PC","PMMA","PS","AQM-P3","PHUs","PNB-D₅₀₀T₁₀₀","P(AEK-BBP)-4","PMSEMA","PMGS-ArTU-35","DG3","PEEK-SO₂","PAEN-CN","PNFA","PDTC-HK511"],"range":["#3a73c9","#2eb24f","#9d86d6","#8c5a5a","#b3609f","#3ab59a","#f28aa6","#5aa6d6","#ffffff","#ffffff","#ffffff","#ffffff","#ffffff","#ffffff","#ffffff","#ffffff","#ffffff","#ffffff","#ffffff"]},
   "legend":{"orient":"none","legendX":986,"legendY":397,"title":null,"strokeColor":"#cccccc","padding":8,"symbolOffset":9,"labelFontSize":16,"labelFont":"Liberation Sans","labelColor":"#111","symbolSize":170,"symbolStrokeWidth":2,"rowPadding":-1,"labelOffset":15}}}},
{"data":{"name":"Dstar"},"transform":[{"filter":"datum.name == 'COF-PEO-3'"}],"mark":{"type":"point","shape":"M0,-1L0.2245,-0.309L0.951,-0.309L0.363,0.118L0.588,0.809L0,0.382L-0.588,0.809L-0.363,0.118L-0.951,-0.309L-0.2245,-0.309Z","filled":true,"color":"#f5a623","size":450,"opacity":1},
 "encoding":{"x":{"field":"x","type":"quantitative","axis":null},"y":{"field":"y","type":"quantitative","axis":null}}},
{"data":{"name":"Dstar"},"transform":[{"filter":"datum.name == 'TFP-PEO-3'"}],"mark":{"type":"point","shape":"M0,-1L0.2245,-0.309L0.951,-0.309L0.363,0.118L0.588,0.809L0,0.382L-0.588,0.809L-0.363,0.118L-0.951,-0.309L-0.2245,-0.309Z","filled":true,"color":"#e0174a","size":450,"opacity":1},
 "encoding":{"x":{"field":"x","type":"quantitative","axis":null},"y":{"field":"y","type":"quantitative","axis":null}}},
{"data":{"values":[{}]},"mark":{"type":"text","text":"COF-PEO-3","align":"left","baseline":"middle","fontSize":17,"fontWeight":"bold","color":"#111"},
 "encoding":{"x":{"datum":7.27,"type":"quantitative","axis":null},"y":{"datum":11.38,"type":"quantitative","axis":null}}},
{"data":{"values":[{}]},"mark":{"type":"text","text":"TFP-PEO-3","align":"left","baseline":"middle","fontSize":17,"fontWeight":"bold","color":"#111"},
 "encoding":{"x":{"datum":9.47,"type":"quantitative","axis":null},"y":{"datum":10.38,"type":"quantitative","axis":null}}},
{"data":{"values":[{}]},"mark":{"type":"text","text":"Lab-synthesized polymers","align":"left","baseline":"middle","fontSize":16.5,"fontWeight":"bold","color":"#5d8c3e"},
 "encoding":{"x":{"datum":3.15,"type":"quantitative","axis":null},"y":{"datum":7.34,"type":"quantitative","axis":null}}},
{"data":{"values":[{}]},"mark":{"type":"text","text":"Commercial polymers","align":"left","baseline":"middle","fontSize":16.5,"fontWeight":"bold","color":"#3d7cc9"},
 "encoding":{"x":{"datum":1.235,"type":"quantitative","axis":null},"y":{"datum":1.55,"type":"quantitative","axis":null}}}
]
}
],"spacing":182,"bounds":"flush"}
],
"spacing":14
}
